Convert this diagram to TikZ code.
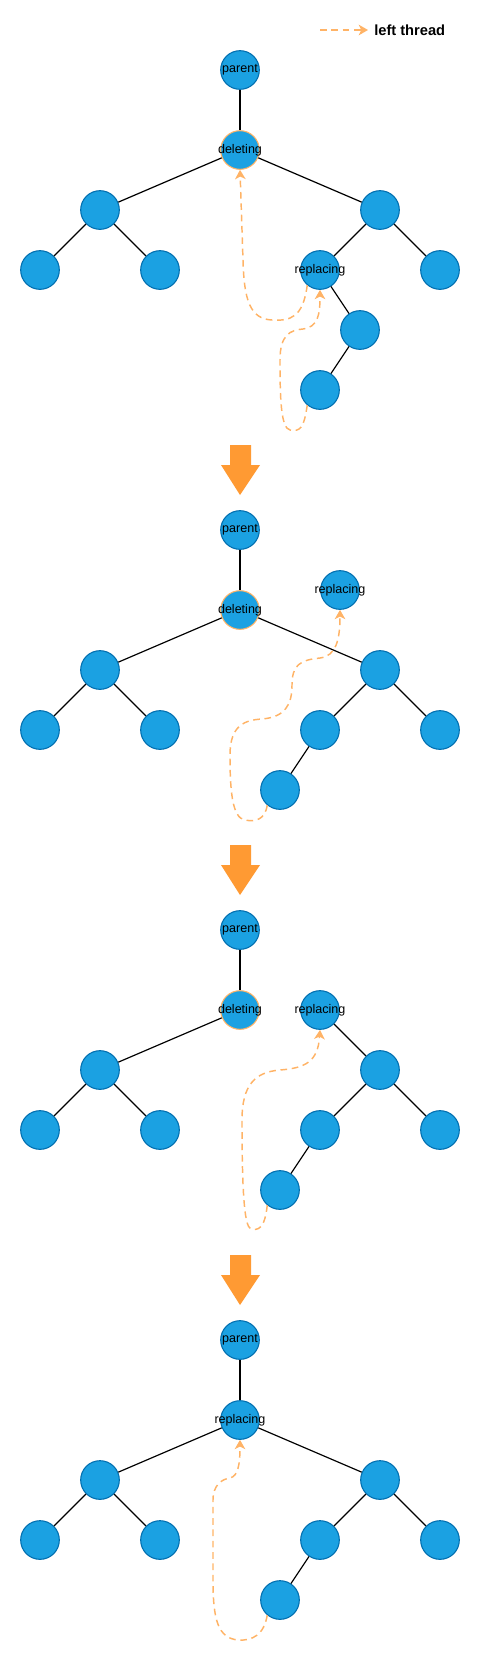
\documentclass[tikz,border=0pt]{standalone}
\usepackage{fontspec}
\setmainfont{Liberation Sans}
\usetikzlibrary{arrows.meta}

\definecolor{nodeblue}{HTML}{1BA1E2}
\definecolor{nodeline}{HTML}{006EAF}
\definecolor{threadorange}{HTML}{FFB366}
\definecolor{bigorange}{HTML}{FF9A33}

\begin{document}
\begin{tikzpicture}[
      x=0.75pt, y=-0.75pt,
      tnode/.style={circle, draw=nodeline, fill=nodeblue, line width=0.8pt,
        minimum size=29pt, inner sep=0pt, font=\fontsize{9.4}{11}\selectfont},
      deleting/.style={tnode, draw=threadorange},
      every child node/.style={tnode},
      edge from parent/.style={draw, line width=0.9pt},
      thread/.style={draw=threadorange, line width=1.1pt, dash pattern=on 5pt off 3.5pt,
        -{Stealth[length=7pt, width=8pt, inset=2pt]}},
      level distance=45pt,
      level 1/.style={level distance=60pt},
      level 2/.style={level distance=45pt, sibling distance=210pt},
      level 3/.style={level distance=45pt, sibling distance=90pt},
      level 4/.style={level distance=45pt, sibling distance=60pt},
      level 5/.style={level distance=45pt, sibling distance=60pt},
    ]
    \useasboundingbox (0,0) rectangle (481,1661);

    % legend
    \coordinate (lgstart) at (320,30);
    \node[anchor=west, inner sep=4.5pt, font=\fontsize{11}{13}\selectfont\bfseries] (lgtext) at (368,30) {left thread};
    \draw[thread] (lgstart) -- (lgtext.west);

    % step 1
    \node[tnode] (p1) at (240,70) {\makebox[0pt]{parent}}
      child {node[deleting] (del1) {\makebox[0pt]{deleting}}
        child {node (l1) {}
          child {node (ll1) {}}
          child {node (lr1) {}}
        }
        child {node (r1) {}
          child {node (rep1) {\makebox[0pt]{replacing}}
            child[missing]
            child {node (x1) {}
              child {node (y1) {}}
              child[missing]
            }
          }
          child {node (rr1) {}}
        }
      };
    \draw[thread] (rep1.-130) .. controls (303,318) and (290,321) .. (272,320)
      .. controls (250,319) and (244,300) .. (243,260) -- (del1.south);
    \draw[thread] (y1.-130) .. controls (304,428) and (300,432) .. (290,430)
      .. controls (281,428) and (280,400) .. (280,360)
      .. controls (280,335) and (290,330) .. (303,329)
      .. controls (318,327) and (320,315) .. (rep1.south);

    % step 2
    \node[tnode] (p2) at (240,530) {\makebox[0pt]{parent}}
      child {node[deleting] (del2) {\makebox[0pt]{deleting}}
        child {node (l2) {}
          child {node (ll2) {}}
          child {node (lr2) {}}
        }
        child {node (r2) {}
          child {node (rl2) {}
            child {node (rll2) {}}
            child[missing]
          }
          child {node (rr2) {}}
        }
      };
    \node[tnode] (rep2) at (340,590) {\makebox[0pt]{replacing}};
    \draw[thread] (rll2.-130) .. controls (265,820) and (255,822) .. (245,820)
      .. controls (232,818) and (230,790) .. (230,755)
      .. controls (230,725) and (245,720) .. (262,719)
      .. controls (285,717) and (292,705) .. (292,685)
      .. controls (292,665) and (300,660) .. (320,658)
      .. controls (336,656) and (340,640) .. (rep2.south);

    % step 3
    \node[tnode] (p3) at (240,930) {\makebox[0pt]{parent}}
      child {node[deleting] (del3) {\makebox[0pt]{deleting}}
        child {node (l3) {}
          child {node (ll3) {}}
          child {node (lr3) {}}
        }
        child[missing]
      };
    \node[tnode] (rep3) at (320,1010) {\makebox[0pt]{replacing}}
      [level 1/.style={level distance=45pt, sibling distance=90pt},
       level 2/.style={level distance=45pt, sibling distance=90pt},
       level 3/.style={level distance=45pt, sibling distance=60pt}]
      child[missing]
      child {node (r3) {}
        child {node (rl3) {}
          child {node (rll3) {}}
          child[missing]
        }
        child {node (rr3) {}}
      };
    \draw[thread] (rll3.-130) .. controls (265,1228) and (258,1232) .. (250,1228)
      .. controls (243,1224) and (242,1170) .. (242,1120)
      .. controls (242,1085) and (255,1072) .. (280,1070)
      .. controls (305,1068) and (318,1062) .. (rep3.south);

    % step 4
    \node[tnode] (p4) at (240,1340) {\makebox[0pt]{parent}}
      child {node (rep4) {\makebox[0pt]{replacing}}
        child {node (l4) {}
          child {node (ll4) {}}
          child {node (lr4) {}}
        }
        child {node (r4) {}
          child {node (rl4) {}
            child {node (rll4) {}}
            child[missing]
          }
          child {node (rr4) {}}
        }
      };
    \draw[thread] (rll4.-130) .. controls (264,1635) and (252,1641) .. (238,1640)
      .. controls (218,1638) and (213,1620) .. (213,1580) -- (213,1500)
      .. controls (213,1485) and (222,1479) .. (230,1478)
      .. controls (238,1476) and (240,1465) .. (rep4.south);

    % big arrows between steps
    \foreach \ytop in {445,845,1255}
      \fill[bigorange] (230,\ytop) -- ++(21,0) -- ++(0,20) -- ++(9,0)
        -- ++(-20,30) -- ++(-19,-30) -- ++(9,0) -- cycle;
  \end{tikzpicture}
\end{document}
